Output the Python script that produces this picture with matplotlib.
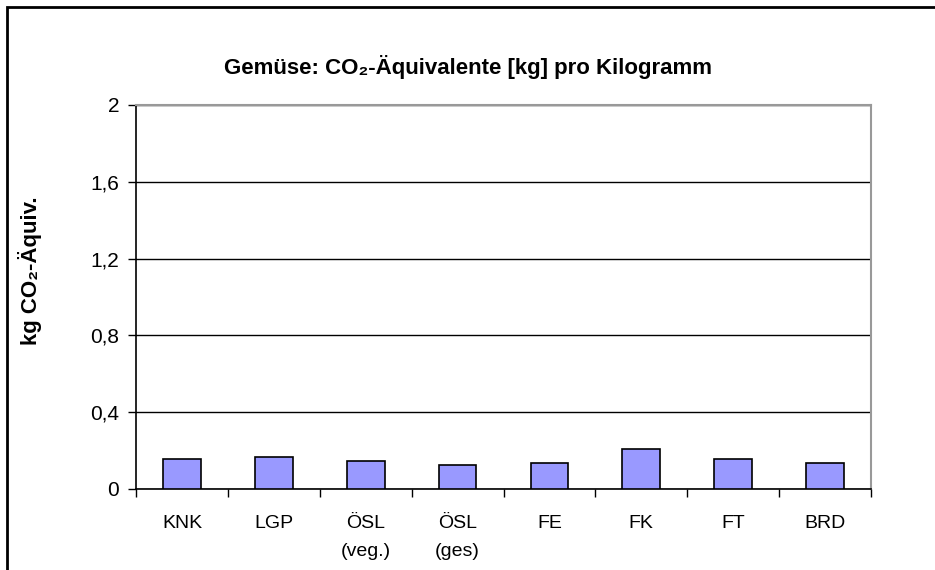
import numpy as np
import matplotlib.pyplot as plt
import matplotlib.ticker as ticker
from matplotlib.patches import Rectangle

plt.rcParams['font.family'] = ['Liberation Sans', 'DejaVu Sans']

categories = ['KNK', 'LGP', 'ÖSL\n(veg.)', 'ÖSL\n(ges)', 'FE', 'FK', 'FT', 'BRD']
values = [0.156, 0.166, 0.145, 0.124, 0.137, 0.208, 0.156, 0.137]
yticks = [0, 0.4, 0.8, 1.2, 1.6, 2.0]

fig = plt.figure(figsize=(9.35, 5.7), dpi=100)
W, H = 935, 570
ax = fig.add_axes([136 / W, 1 - 489 / H, (871 - 136) / W, (489 - 105) / H])

x = np.arange(len(categories))
ax.bar(x, values, width=0.41, color='#9999FF', edgecolor='black', linewidth=1.2, zorder=3)

ax.set_xlim(-0.5, len(categories) - 0.5)
ax.set_ylim(0, 2)
ax.set_yticks(yticks)
ax.yaxis.set_major_formatter(ticker.FuncFormatter(lambda v, p: ('%g' % v).replace('.', ',')))
ax.grid(axis='y', color='black', linewidth=1, zorder=1)

# labels at category centres, tick marks at the boundaries
ax.set_xticks(x)
ax.set_xticklabels(categories, linespacing=1.85)
ax.tick_params(axis='x', which='major', length=0, pad=19, labelsize=14)
ax.set_xticks(np.arange(len(categories) + 1) - 0.5, minor=True)
ax.tick_params(axis='x', which='minor', length=6, width=1, direction='out')
ax.tick_params(axis='y', length=6, width=1, direction='out', pad=6, labelsize=15)

for s in ['left', 'bottom']:
    ax.spines[s].set_color('black')
    ax.spines[s].set_linewidth(1.2)
for s in ['top', 'right']:
    ax.spines[s].set_color('#999999')
    ax.spines[s].set_linewidth(1.5)

ax.set_ylabel('kg CO₂-Äquiv.', fontsize=16, fontweight='bold', va='center')
ax.yaxis.set_label_coords(-0.144, 0.568)

fig.text(468 / W, 1 - 67 / H, 'Gemüse: CO₂-Äquivalente [kg] pro Kilogramm',
         ha='center', va='center', fontsize=16, fontweight='bold')

# outer chart frame (runs off the right and bottom edges)
fig.patches.append(Rectangle((7 / W, -0.1), 1.1, 1 - 7 / H + 0.1, transform=fig.transFigure,
                             fill=False, edgecolor='black', linewidth=2))

fig.savefig('out.png', dpi=100)
